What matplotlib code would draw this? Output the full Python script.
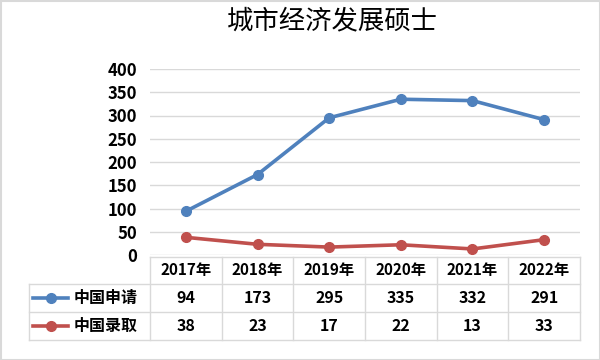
import matplotlib
matplotlib.use("Agg")
import matplotlib.pyplot as plt
from matplotlib.transforms import blended_transform_factory
from matplotlib.lines import Line2D
from matplotlib.patches import Rectangle

plt.rcParams['font.family'] = ['Noto Sans CJK SC', 'DejaVu Sans']

title = "城市经济发展硕士"
years = ["2017年", "2018年", "2019年", "2020年", "2021年", "2022年"]
series_names = ["中国申请", "中国录取"]
apply_vals = [94, 173, 295, 335, 332, 291]
admit_vals = [38, 23, 17, 22, 13, 33]
colors = ["#4f81bd", "#c0504d"]
yticks = [0, 50, 100, 150, 200, 250, 300, 350, 400]

W, H = 600, 360
fig = plt.figure(figsize=(6, 3.6), dpi=100)
fig.patches.append(Rectangle((0.5 / W, 0.5 / H), 1 - 1.0 / W, 1 - 1.0 / H, transform=fig.transFigure,
                             fill=False, edgecolor="#d9d9d9", linewidth=1.5))

L, R, B, T = 150, 580, 255, 69
ax = fig.add_axes([L / W, 1 - B / H, (R - L) / W, (B - T) / H])
x = list(range(len(years)))
for vals, c in zip([apply_vals, admit_vals], colors):
    ax.plot(x, vals, color=c, linewidth=2.6, marker="o", markersize=7, clip_on=False, zorder=3)
ax.set_xlim(-0.5, len(years) - 0.5)
ax.set_ylim(0, 400)
ax.set_yticks(yticks)
ax.set_yticklabels([str(v) for v in yticks], fontsize=12, fontweight="bold")
ax.tick_params(axis="y", length=0, pad=9)
ax.set_xticks([])
ax.grid(axis="y", color="#d9d9d9", linewidth=1)
for s in ax.spines.values():
    s.set_visible(False)

fig.text(332 / W, 1 - 21 / H, title, ha="center", va="center", fontsize=19, color="black")

# data table
tr = blended_transform_factory(ax.transData, fig.transFigure)
ty = lambda p: 1 - p / H
rows = [257, 284, 312, 340]
gc = "#d9d9d9"
fig.add_artist(Line2D([-0.5, len(years) - 0.5], [ty(rows[0])] * 2, transform=tr, color=gc, lw=1))
for r in rows[1:]:
    fig.add_artist(Line2D([29 / W, R / W], [ty(r)] * 2, transform=fig.transFigure, color=gc, lw=1))
for i in range(len(years) + 1):
    fig.add_artist(Line2D([i - 0.5] * 2, [ty(rows[0]), ty(rows[-1])], transform=tr, color=gc, lw=1))
fig.add_artist(Line2D([29 / W] * 2, [ty(rows[1]), ty(rows[-1])], transform=fig.transFigure, color=gc, lw=1))

for i, yr in enumerate(years):
    fig.text(i, ty((rows[0] + rows[1]) / 2), yr, transform=tr, ha="center", va="center",
             fontsize=11, fontweight="bold")
for k, (vals, c, name) in enumerate(zip([apply_vals, admit_vals], colors, series_names)):
    yc = ty((rows[k + 1] + rows[k + 2]) / 2)
    for i, v in enumerate(vals):
        fig.text(i, yc, str(v), transform=tr, ha="center", va="center", fontsize=11.5, fontweight="bold")
    fig.add_artist(Line2D([33 / W, 68 / W], [yc, yc], transform=fig.transFigure, color=c, lw=2.6))
    fig.add_artist(Line2D([50.5 / W], [yc], transform=fig.transFigure, color=c, marker="o", markersize=7))
    fig.text(74 / W, yc, name, ha="left", va="center", fontsize=11.5, fontweight="bold")

fig.savefig("out.png", dpi=100)
